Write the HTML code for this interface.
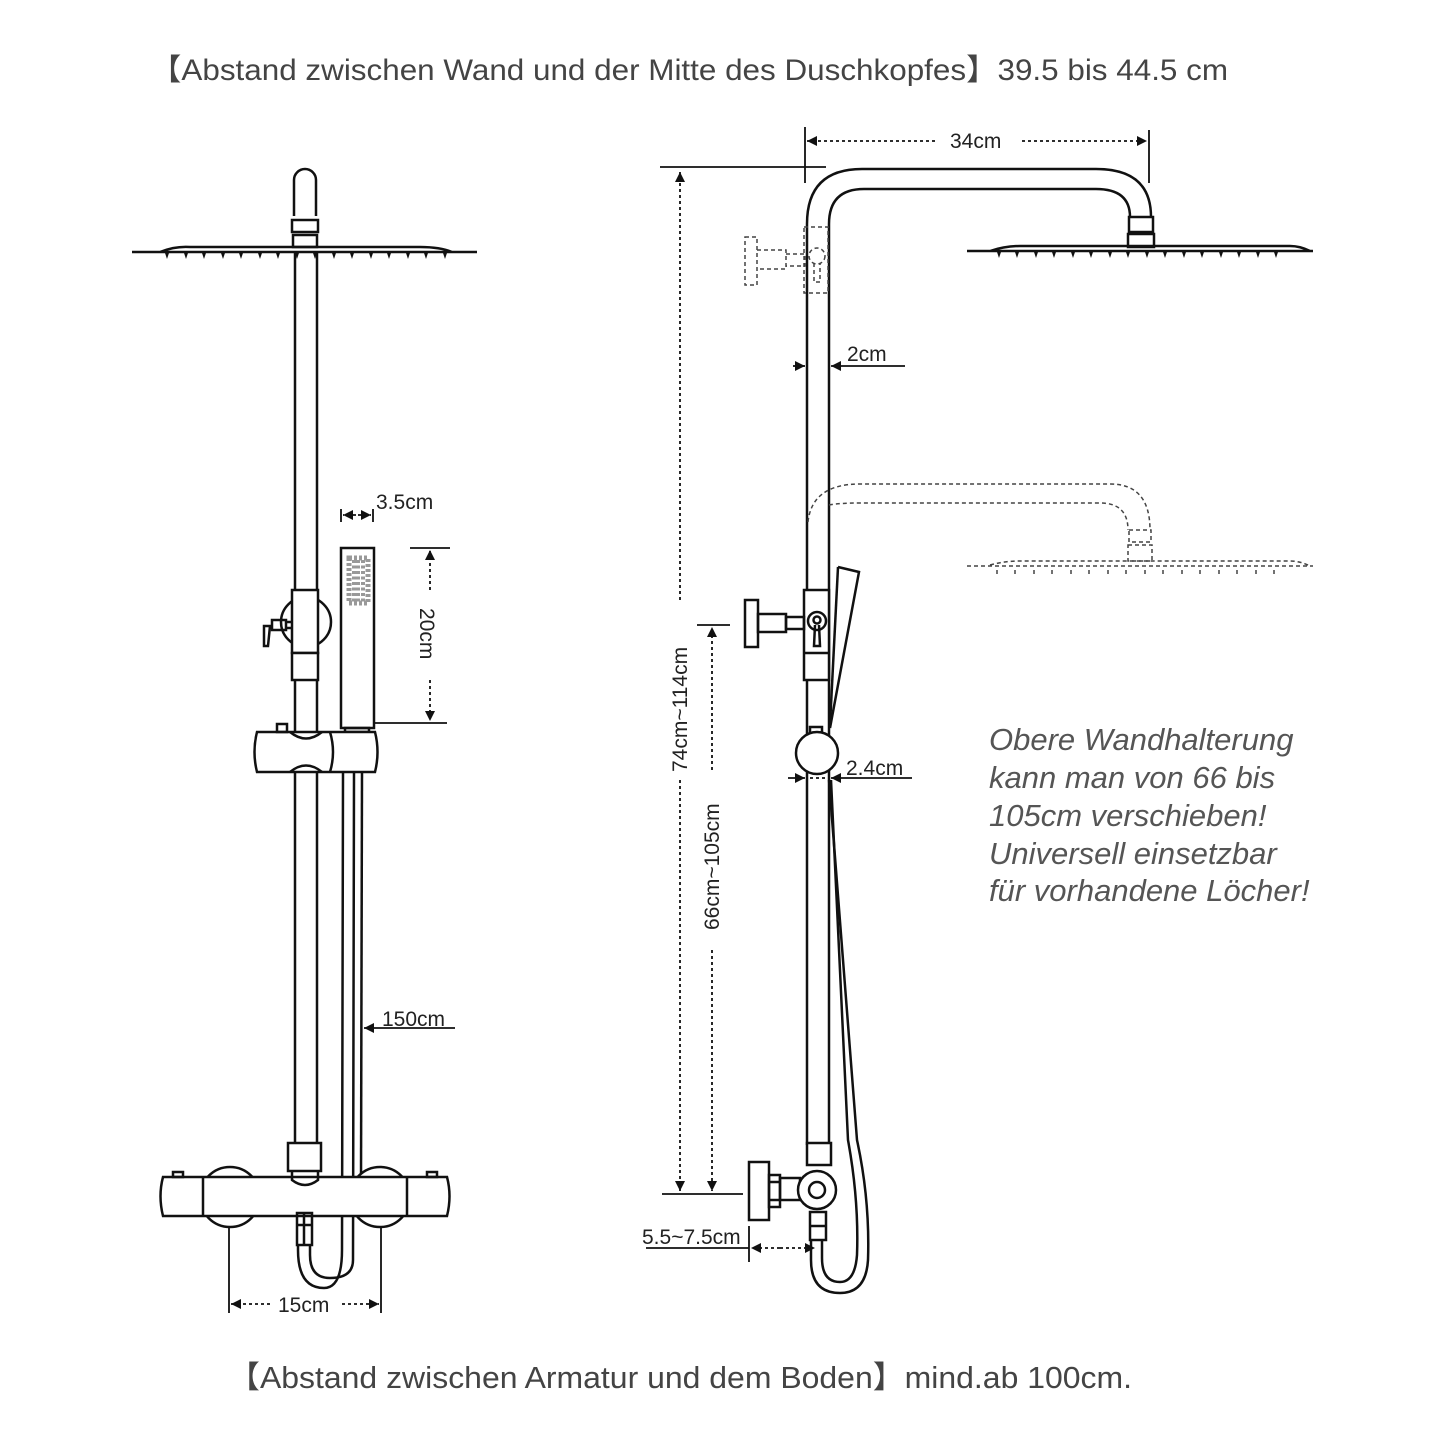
<!DOCTYPE html>
<html><head><meta charset="utf-8"><style>
body{margin:0;background:#fff}
svg{display:block}
text{font-family:"Liberation Sans","Noto Sans CJK SC",sans-serif;fill:#222}
</style></head><body>
<svg width="1445" height="1445" viewBox="0 0 1445 1445" xmlns="http://www.w3.org/2000/svg">
<defs>
<marker id="a" viewBox="0 0 10 10" refX="10" refY="5" markerWidth="10" markerHeight="10" markerUnits="userSpaceOnUse" orient="auto"><path d="M0,0L10,5L0,10z" fill="#111"/></marker>
</defs>
<text x="150" y="80" font-size="30" textLength="1078" lengthAdjust="spacingAndGlyphs" style="fill:#444">【Abstand zwischen Wand und der Mitte des Duschkopfes】39.5 bis 44.5 cm</text>
<text x="228" y="1388" font-size="31" textLength="904" lengthAdjust="spacingAndGlyphs" style="fill:#444">【Abstand zwischen Armatur und dem Boden】mind.ab 100cm.</text>

<g fill="none" stroke="#111" stroke-width="2.5">
<path d="M294,216 V180 a11,11 0 0 1 22,0 V216"/>
<rect x="292" y="220" width="26" height="12"/>
<rect x="293" y="235" width="24" height="12"/>
<path d="M132,252 H477 M160,252 Q175,246 190,247 H420 Q440,247 452,252"/>
<path d="M295,252 V1145 M317,252 V1145"/>
<circle cx="306" cy="622" r="25" fill="#fff"/>
<rect x="292" y="590" width="26" height="63" fill="#fff"/>
<rect x="292" y="653" width="26" height="27" fill="#fff"/>
<rect x="272" y="620" width="14" height="10"/>
<path d="M286,622 H292 M286,628 H292"/>
<path d="M264,626 L270,626 L268,646 L264,646 z"/>
<rect x="341" y="548" width="33" height="180" fill="#fff"/>
<path d="M345,728 h24 v4 h-24z"/>
<path d="M257,732 H375 Q380,752 375,772 H257 Q252,752 257,732z" fill="#fff"/>
<path d="M290,732 Q306,745 322,732 M290,772 Q306,759 322,772 M330,732 Q336,752 330,772"/>
<rect x="277" y="724" width="10" height="8"/>
<path d="M343,772 L342,1250 Q342,1288 324,1288 Q298,1288 298,1250 V1245"/>
<path d="M354,772 L353,1260 Q353,1278 330,1278 Q310,1278 310,1255 V1245"/>
<path d="M362,772 L361,1180"/>
<circle cx="230" cy="1197" r="30" fill="#fff"/>
<circle cx="380" cy="1197" r="30" fill="#fff"/>
<path d="M163,1177 H447 Q452,1196 447,1216 H163 Q158,1196 163,1177z" fill="#fff"/>
<path d="M203,1177 V1216 M407,1177 V1216"/>
<rect x="173" y="1172" width="10" height="5"/>
<rect x="427" y="1172" width="10" height="5"/>
<rect x="288" y="1143" width="33" height="28" fill="#fff"/>
<path d="M292,1171 V1180 Q305,1190 318,1180 V1171"/>
<rect x="297" y="1213" width="15" height="32"/>
<path d="M297,1225 H312 M304,1213 V1245"/>
</g>
<g fill="#111">
<path d="M165,253h4l-2,6z M184,253h4l-2,6z M202,253h4l-2,6z M221,253h4l-2,6z M239,253h4l-2,6z M258,253h4l-2,6z M276,253h4l-2,6z M295,253h4l-2,6z M313,253h4l-2,6z M332,253h4l-2,6z M350,253h4l-2,6z M369,253h4l-2,6z M387,253h4l-2,6z M406,253h4l-2,6z M424,253h4l-2,6z M443,253h4l-2,6z"/>
</g>
<path d="M349,558h19v45h-19z" fill="none" stroke="#999" stroke-width="5" stroke-dasharray="3 2"/>
<path d="M354,560v42M358,560v42M363,560v42" stroke="#999" stroke-width="4" stroke-dasharray="3 2.5"/>

<g stroke="#111" stroke-width="1.8" fill="none">
<path d="M341,509 V522 M373,509 V522"/>
<path d="M356,515 H343" stroke-dasharray="3 3" marker-end="url(#a)"/>
<path d="M358,515 H371" stroke-dasharray="3 3" marker-end="url(#a)"/>
<path d="M410,548 H450 M375,723 H447"/>
<path d="M430,590 V550" stroke-dasharray="3 3" marker-end="url(#a)"/>
<path d="M430,680 V721" stroke-dasharray="3 3" marker-end="url(#a)"/>
<path d="M455,1028 H364" marker-end="url(#a)"/>
<path d="M229,1228 V1313 M381,1228 V1313"/>
<path d="M270,1304 H231" stroke-dasharray="3 3" marker-end="url(#a)"/>
<path d="M342,1304 H379" stroke-dasharray="3 3" marker-end="url(#a)"/>
</g>
<text x="376" y="509" font-size="21">3.5cm</text>
<text x="420" y="608" font-size="21" transform="rotate(90 420 608)">20cm</text>
<text x="382" y="1026" font-size="21">150cm</text>
<text x="278" y="1312" font-size="21">15cm</text>

<g fill="none" stroke="#111" stroke-width="2.5">
<path d="M807,1145 V224 Q807,169 862,169 H1096 Q1151,169 1151,217"/>
<path d="M829,1145 V224 Q829,189 864,189 H1096 Q1130,189 1130,217"/>
<rect x="1129" y="217" width="24" height="15"/>
<rect x="1128" y="234" width="26" height="13"/>
<path d="M967,251 H1313 M990,251 Q1005,246 1020,246 H1290 Q1300,246 1310,251"/>
<rect x="804" y="590" width="25" height="90" fill="#fff"/>
<path d="M804,653 H829"/>
<rect x="745" y="600" width="13" height="47"/>
<rect x="758" y="614" width="28" height="18"/>
<rect x="786" y="617" width="18" height="12"/>
<circle cx="817" cy="621" r="9"/>
<circle cx="817" cy="620" r="3.5"/>
<path d="M815,625 L814,646 H820 L819,625"/>
<path d="M838,567 L859,572 L830,728"/>
<path d="M830,725 L838,567"/>
<rect x="810" y="727" width="12" height="8"/>
<circle cx="817" cy="753" r="21" fill="#fff"/>
<path d="M829,780 L857,1140 Q870,1200 868,1260 Q866,1293 840,1293 Q811,1293 811,1260 V1240"/>
<path d="M831,780 L848,1140 Q859,1200 857,1255 Q855,1282 840,1282 Q822,1282 822,1258 V1240"/>
<rect x="807" y="1143" width="24" height="22" fill="#fff"/>
<rect x="749" y="1162" width="20" height="58" fill="#fff"/>
<rect x="769" y="1175" width="11" height="32"/>
<path d="M769,1182 H780 M769,1200 H780"/>
<rect x="780" y="1178" width="20" height="22"/>
<circle cx="817" cy="1190" r="19" fill="#fff"/>
<circle cx="817" cy="1190" r="8"/>
<rect x="810" y="1212" width="16" height="28"/>
<path d="M810,1226 H826"/>
</g>
<g fill="#111">
<path d="M997,252h4l-2,6z M1015,252h4l-2,6z M1034,252h4l-2,6z M1052,252h4l-2,6z M1071,252h4l-2,6z M1089,252h4l-2,6z M1108,252h4l-2,6z M1126,252h4l-2,6z M1145,252h4l-2,6z M1163,252h4l-2,6z M1182,252h4l-2,6z M1200,252h4l-2,6z M1219,252h4l-2,6z M1237,252h4l-2,6z M1256,252h4l-2,6z M1274,252h4l-2,6z"/>
</g>
<g fill="none" stroke="#444" stroke-width="1.5" stroke-dasharray="4 3">
<rect x="745" y="237" width="12" height="48"/>
<path d="M757,250 H786 V269 H757 M786,254 H805 V266 H786"/>
<rect x="804" y="227" width="24" height="66"/>
<circle cx="817" cy="256" r="8"/>
<path d="M814,263 V282 H820 V263"/>
<path d="M808,522 Q812,484 860,484 H1110 Q1150,484 1150,530"/>
<path d="M829,505 Q840,503 860,503 H1100 Q1128,503 1128,530"/>
<rect x="1129" y="530" width="22" height="12"/>
<rect x="1128" y="545" width="24" height="16"/>
<path d="M967,566 H1313 M990,565 Q1005,561 1020,561 H1290 Q1300,561 1310,566"/>
<path d="M997,570v4 M1015,570v4 M1034,570v4 M1052,570v4 M1071,570v4 M1089,570v4 M1108,570v4 M1126,570v4 M1145,570v4 M1163,570v4 M1182,570v4 M1200,570v4 M1219,570v4 M1237,570v4 M1256,570v4 M1274,570v4"/>
</g>
<g stroke="#111" stroke-width="1.8" fill="none">
<path d="M805,127 V183 M1149,130 V183 M660,167 H826"/>
<path d="M935,141 H807" stroke-dasharray="3 3" marker-end="url(#a)"/>
<path d="M1022,141 H1147" stroke-dasharray="3 3" marker-end="url(#a)"/>
<path d="M680,600 V172" stroke-dasharray="3 3" marker-end="url(#a)"/>
<path d="M680,780 V1191" stroke-dasharray="3 3" marker-end="url(#a)"/>
<path d="M697,625 H730"/>
<path d="M712,770 V627" stroke-dasharray="3 3" marker-end="url(#a)"/>
<path d="M712,950 V1191" stroke-dasharray="3 3" marker-end="url(#a)"/>
<path d="M662,1194 H743"/>
<path d="M793,366 H805" marker-end="url(#a)"/>
<path d="M905,366 H831" marker-end="url(#a)"/>
<path d="M788,778 H805" marker-end="url(#a)"/>
<path d="M810,778 H828" stroke-dasharray="3 3"/>
<path d="M912,778 H831" marker-end="url(#a)"/>
<path d="M749,1226 V1262 M646,1248 H749"/>
<path d="M780,1248 H751" stroke-dasharray="3 3" marker-end="url(#a)"/>
<path d="M780,1248 H815" stroke-dasharray="3 3" marker-end="url(#a)"/>
</g>
<text x="950" y="148" font-size="21">34cm</text>
<text x="847" y="361" font-size="21">2cm</text>
<text x="846" y="775" font-size="21">2.4cm</text>
<text x="642" y="1244" font-size="21">5.5~7.5cm</text>
<text x="687" y="772" font-size="21" transform="rotate(-90 687 772)">74cm~114cm</text>
<text x="719" y="930" font-size="21" transform="rotate(-90 719 930)">66cm~105cm</text>
<g font-size="31" font-style="italic">
<text x="989" y="750" style="fill:#555">Obere Wandhalterung</text>
<text x="989" y="788" style="fill:#555">kann man von 66 bis</text>
<text x="989" y="826" style="fill:#555">105cm verschieben!</text>
<text x="989" y="864" style="fill:#555">Universell einsetzbar</text>
<text x="989" y="901" style="fill:#555">für vorhandene Löcher!</text>
</g>
</svg>
</body></html>
